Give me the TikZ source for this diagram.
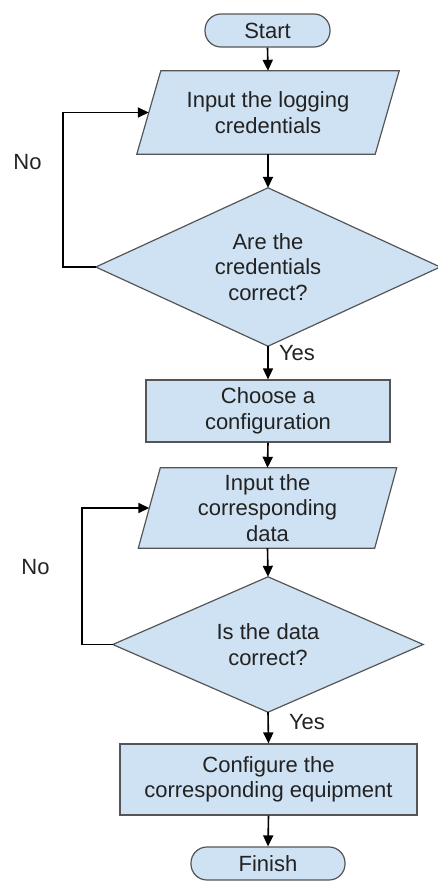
\documentclass[tikz,border=0pt]{standalone}
\usepackage{fontspec}
\setmainfont{Liberation Sans}
\usetikzlibrary{arrows.meta,backgrounds}
\definecolor{boxfill}{HTML}{CFE2F3}
\definecolor{boxline}{HTML}{555555}
\definecolor{txt}{HTML}{222222}
\begin{document}
\begin{tikzpicture}[x=1pt,y=1pt,
  every node/.style={font=\fontsize{22}{25.5}\selectfont, text=txt, inner sep=0pt},
  shapebox/.style={draw=boxline, fill=boxfill, line width=1.2pt},
  term/.style={shapebox, rectangle, rounded corners=16pt, align=center},
  proc/.style={shapebox, rectangle, align=center},
  holder/.style={rectangle, align=center},
  outline/.style={draw=boxline, fill=boxfill, line width=1.2pt},
  arr/.style={draw=black, line width=1.6pt, -{Triangle[length=11pt,width=10pt]}},
  lbl/.style={}
]
\useasboundingbox (0,0) rectangle (438,-881);

% terminals, processes, inputs and decisions
\node[term, minimum width=125, minimum height=33] (start) at (267.5,-30.5) {Start};
\node[holder, minimum width=238, minimum height=83] (in1) at (268,-112.5) {Input the logging\\credentials};
\node[holder, minimum width=344, minimum height=158] (d1) at (268,-267) {Are the\\credentials\\correct?};
\node[proc, minimum width=244, minimum height=62] (c1) at (268,-411) {Choose a\\configuration};
\node[holder, minimum width=236, minimum height=80] (in2) at (267.5,-508) {Input the\\corresponding\\data};
\node[holder, minimum width=310, minimum height=135] (d2) at (268,-644.5) {Is the data\\correct?};
\node[proc, minimum width=297, minimum height=71] (c2) at (268.5,-779.5) {Configure the\\corresponding equipment};
\node[term, minimum width=154, minimum height=33] (fin) at (268,-863.5) {Finish};

% parallelogram and diamond outlines behind their texts
\begin{scope}[on background layer]
\path[outline] ([xshift=12]in1.north west) -- ([xshift=12]in1.north east) -- ([xshift=-12]in1.south east) -- ([xshift=-12]in1.south west) -- cycle;
\path[outline] ([xshift=11]in2.north west) -- ([xshift=11]in2.north east) -- ([xshift=-11]in2.south east) -- ([xshift=-11]in2.south west) -- cycle;
\path[outline] (d1.north) -- (d1.east) -- (d1.south) -- (d1.west) -- cycle;
\path[outline] (d2.north) -- (d2.east) -- (d2.south) -- (d2.west) -- cycle;
\end{scope}

% connectors
\draw[arr] (start.south) -- (in1.north);
\draw[arr] (in1.south) -- (d1.north);
\draw[arr] (d1.south) -- (c1.north);
\draw[arr] (c1.south) -- (in2.north);
\draw[arr] (in2.south) -- (d2.north);
\draw[arr] (d2.south) -- (c2.north);
\draw[arr] (c2.south) -- (fin.north);
\draw[arr] (d1.west) -- ++(-33,0) |- (in1.west);
\draw[arr] (d2.west) -- ++(-31,0) |- (in2.west);

% labels
\node[lbl] (no1) at (27.5,-162) {No};
\node[lbl] (no2) at (35.5,-567) {No};
\node[lbl] (yes1) at (297,-353) {Yes};
\node[lbl] (yes2) at (307,-722) {Yes};
\end{tikzpicture}
\end{document}
